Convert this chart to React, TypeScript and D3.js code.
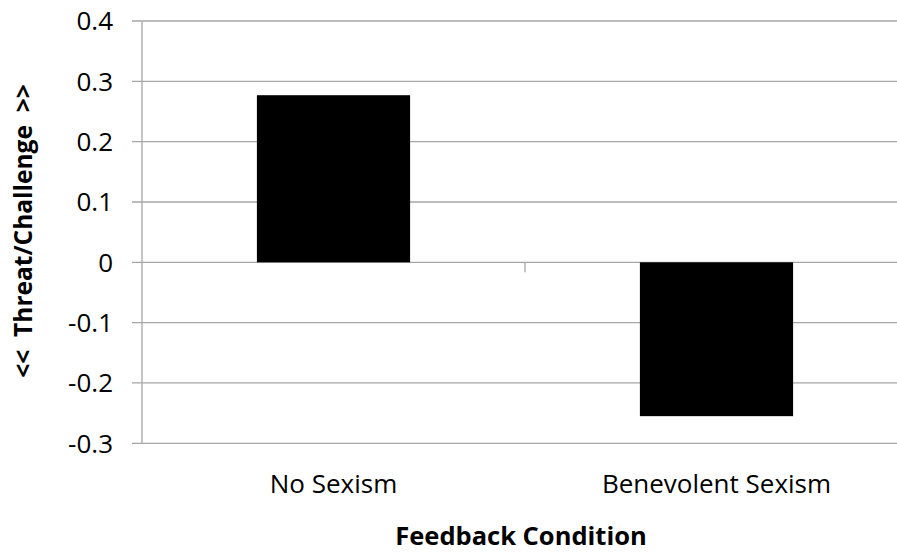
import { useEffect, useRef } from 'react'
import * as d3 from 'd3'

const categories = ['No Sexism', 'Benevolent Sexism']
const values = [0.277, -0.255]
const yTicks = [0.4, 0.3, 0.2, 0.1, 0, -0.1, -0.2, -0.3]

export default function App() {
  const svgRef = useRef<SVGSVGElement>(null)

  useEffect(() => {
    document.body.style.margin = '0'
    if (!svgRef.current) return

    const svg = d3.select(svgRef.current)
    svg.selectAll('*').remove()

    const width = 897
    const height = 552
    const left = 142
    const right = 908
    const top = 21
    const bottom = 443.3
    const font = '"Open Sans", Lato, sans-serif'

    const x = d3.scaleBand()
      .domain(categories)
      .range([left, right])
      .paddingInner(0.6)
      .paddingOuter(0.3)

    const y = d3.scaleLinear()
      .domain([-0.3, 0.4])
      .range([bottom, top])

    svg.attr('width', width).attr('height', height)
      .style('display', 'block')
      .style('background', '#fff')

    // Gridlines
    svg.append('g')
      .selectAll('line')
      .data(yTicks)
      .enter()
      .append('line')
      .attr('x1', left - 10)
      .attr('x2', right)
      .attr('y1', d => y(d))
      .attr('y2', d => y(d))
      .attr('stroke', '#a6a6a6')
      .attr('stroke-width', 1.3)

    // Y axis line
    svg.append('line')
      .attr('x1', left)
      .attr('x2', left)
      .attr('y1', top)
      .attr('y2', bottom)
      .attr('stroke', '#a6a6a6')
      .attr('stroke-width', 1.3)

    // Bars
    svg.selectAll('.bar')
      .data(categories)
      .enter()
      .append('rect')
      .attr('class', 'bar')
      .attr('x', d => x(d) || 0)
      .attr('width', x.bandwidth())
      .attr('y', (d, i) => y(Math.max(0, values[i])))
      .attr('height', (d, i) => Math.abs(y(values[i]) - y(0)))
      .attr('fill', '#000')

    // Category divider tick on zero line
    const mid = ((x(categories[0]) || 0) + (x(categories[1]) || 0) + x.bandwidth()) / 2
    svg.append('line')
      .attr('x1', mid)
      .attr('x2', mid)
      .attr('y1', y(0))
      .attr('y2', y(0) + 10)
      .attr('stroke', '#a6a6a6')
      .attr('stroke-width', 1.3)

    // Y tick labels
    svg.selectAll('.ylab')
      .data(yTicks)
      .enter()
      .append('text')
      .attr('class', 'ylab')
      .attr('x', 113)
      .attr('y', d => y(d))
      .attr('dy', '0.36em')
      .attr('text-anchor', 'end')
      .style('font-family', font)
      .style('font-size', '26px')
      .style('fill', '#000')
      .text(d => (d === 0 ? '0' : d.toFixed(1)))

    // Category labels
    svg.selectAll('.xlab')
      .data(categories)
      .enter()
      .append('text')
      .attr('class', 'xlab')
      .attr('x', d => (x(d) || 0) + x.bandwidth() / 2)
      .attr('y', 493)
      .attr('text-anchor', 'middle')
      .style('font-family', font)
      .style('font-size', '26px')
      .style('fill', '#000')
      .text(d => d)

    // X axis title
    svg.append('text')
      .attr('x', 521)
      .attr('y', 545)
      .attr('text-anchor', 'middle')
      .style('font-family', font)
      .style('font-size', '25.5px')
      .style('font-weight', '700')
      .style('fill', '#000')
      .text('Feedback Condition')

    // Y axis title
    svg.append('text')
      .attr('transform', 'translate(32,231) rotate(-90)')
      .attr('text-anchor', 'middle')
      .style('font-family', font)
      .style('font-size', '24.5px')
      .style('font-weight', '700')
      .style('fill', '#000')
      .style('white-space', 'pre')
      .text('<<  Threat/Challenge  >>')
  }, [])

  return <svg ref={svgRef} />
}
